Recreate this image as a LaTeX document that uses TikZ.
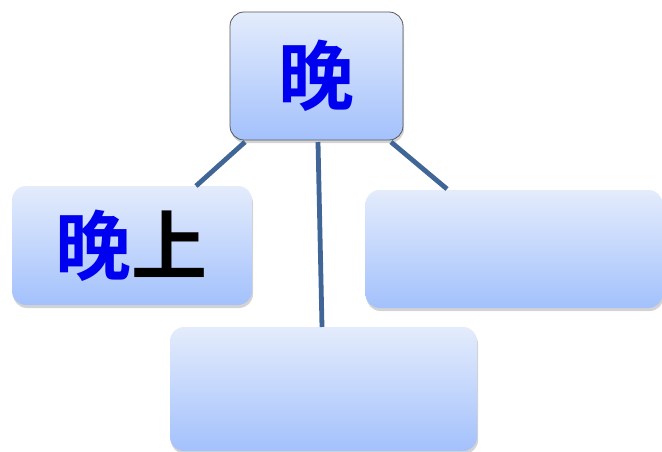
\documentclass[tikz,border=0pt]{standalone}
\usepackage{fontspec}
\newfontfamily\cjk{Noto Sans CJK SC}[BoldFont={Noto Sans CJK SC Bold}]
\usetikzlibrary{shadows}
\definecolor{boxtop}{HTML}{E4ECFC}
\definecolor{boxbot}{HTML}{A3C1FC}
\definecolor{linkc}{HTML}{3F6696}
\definecolor{txtblue}{HTML}{0000F0}
\tikzset{
  boxnode/.style={rounded corners=14pt, top color=boxtop, bottom color=boxbot,
    drop shadow={shadow xshift=1pt, shadow yshift=-3pt, opacity=0.35}, inner sep=0pt},
  link/.style={draw=linkc, line width=4.8pt},
  bigtext/.style={font=\cjk\bfseries\fontsize{76}{76}\selectfont, inner sep=0pt},
}
\begin{document}
\begin{tikzpicture}[x=1pt,y=-1pt]
\useasboundingbox (0,0) rectangle (662,452);
\node[boxnode, draw=gray!70!black, line width=0.8pt, minimum width=173pt, minimum height=128pt] (top) at (316.5,76) {};
\node[boxnode, minimum width=240pt, minimum height=119pt] (left) at (132,245.5) {};
\node[boxnode, minimum width=297pt, minimum height=118pt] (right) at (514,249) {};
\node[boxnode, minimum width=307pt, minimum height=124pt] (bottom) at (323.5,389) {};
\node[bigtext, text=txtblue] (toptext) at (top.center) {晚};
\node[bigtext] (lefttext) at (left.center) {\textcolor{txtblue}{晚}上};
\coordinate (a1) at (245,142);
\coordinate (b1) at (318,142);
\coordinate (c1) at (391,142);
\coordinate (a2) at (196,186);
\coordinate (b2) at (322,327);
\coordinate (c2) at (447,189);
\draw[link] (a1) -- (a2);
\draw[link] (b1) -- (b2);
\draw[link] (c1) -- (c2);
\end{tikzpicture}
\end{document}
